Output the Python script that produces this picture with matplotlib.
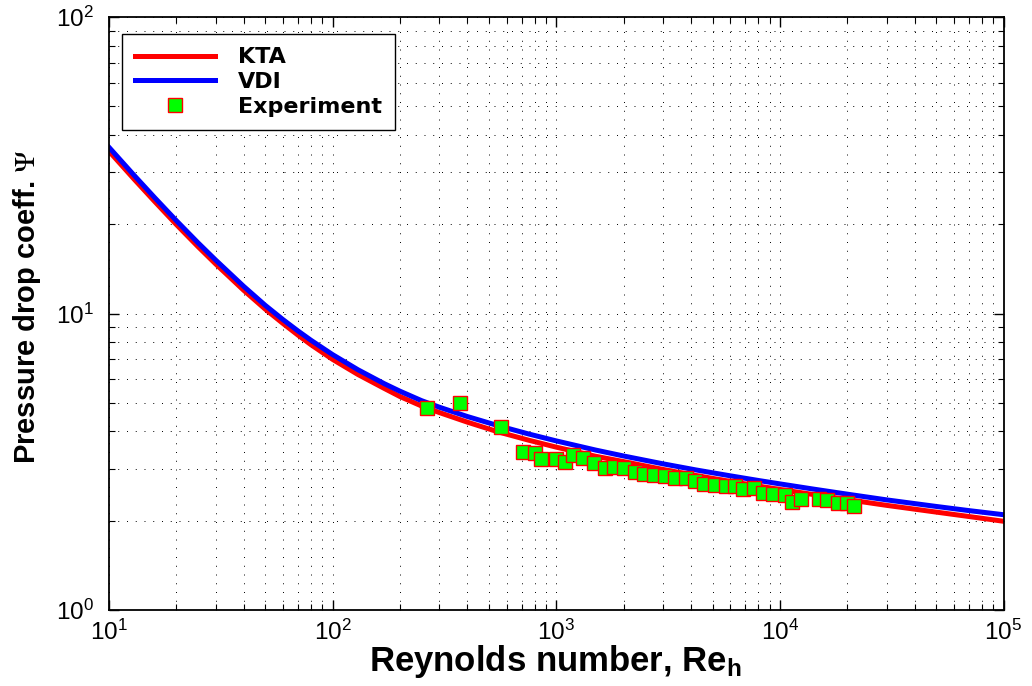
import numpy as np
import matplotlib
matplotlib.use("Agg")
import matplotlib.pyplot as plt
from matplotlib.ticker import LogLocator, NullFormatter

plt.rcParams['font.family'] = ['Liberation Sans', 'DejaVu Sans']
plt.rcParams['mathtext.fontset'] = 'custom'
plt.rcParams['mathtext.rm'] = 'Liberation Sans'
plt.rcParams['mathtext.it'] = 'Liberation Sans:italic'
plt.rcParams['mathtext.bf'] = 'Liberation Sans:bold'

#---------------------------------------------------------------------------
# correlations (same Re grid for both)
re_curve = [10, 13, 16, 20, 25, 30, 40, 50, 60, 70, 80, 100, 130, 170, 200, 250,
            300, 400, 550, 750, 1000, 1500, 2000, 3000, 4200, 6000, 8000, 10000,
            14000, 20000, 30000, 50000, 70000, 100000]
psi_kta = [35.27, 28.29, 23.87, 19.96, 16.81, 14.69, 11.98, 10.34, 9.254, 8.455, 7.849,
           7.002, 6.223, 5.591, 5.248, 4.875, 4.634, 4.302, 3.988, 3.741, 3.542, 3.300,
           3.166, 2.979, 2.843, 2.714, 2.618, 2.550, 2.454, 2.357, 2.254, 2.139, 2.067,
           1.992]
psi_vdi = [36.35, 29.15, 24.59, 20.57, 17.32, 15.14, 12.35, 10.65, 9.535, 8.732, 8.125,
           7.265, 6.457, 5.801, 5.470, 5.082, 4.831, 4.494, 4.184, 3.926, 3.718, 3.463,
           3.307, 3.112, 2.969, 2.835, 2.735, 2.663, 2.560, 2.459, 2.352, 2.235, 2.164,
           2.096]

# measured points
re_exp = [265, 372, 565, 708, 804, 855, 998, 1099, 1193, 1322, 1475, 1658, 1813,
          2016, 2251, 2477, 2737, 3066, 3399, 3806, 4177, 4581, 5129, 5746,
          6302, 6867, 7666, 8384, 9354, 10550, 11300, 12400, 15020, 16310,
          18260, 19910, 21470]
psi_exp = [4.80, 5.00, 4.15, 3.40, 3.38, 3.22, 3.22, 3.16, 3.32, 3.25, 3.12, 3.01, 3.03,
           3.01, 2.93, 2.87, 2.85, 2.83, 2.79, 2.79, 2.73, 2.66, 2.63, 2.61,
           2.61, 2.56, 2.58, 2.49, 2.46, 2.44, 2.32, 2.37, 2.37, 2.35,
           2.30, 2.30, 2.24]
#---------------------------------------------------------------------------

fig = plt.figure(figsize=(10.32, 6.86), dpi=100)
ax = fig.add_axes([109/1032, 1-610/686, (1003.5-109)/1032, (610-17)/686])

ax.plot(re_curve, psi_kta, color="#ff0000", lw=3.6, label="KTA")
ax.plot(re_curve, psi_vdi, color="#0000ff", lw=3.6, label="VDI")
ax.plot(re_exp, psi_exp, ls="none", marker="s", ms=10, mfc="#00ff00", mec="#ff0000",
        mew=1.0, label="Experiment")

ax.set_xscale("log")
ax.set_yscale("log")
ax.set_xlim(10, 1e5)
ax.set_ylim(1, 100)

ax.xaxis.set_major_locator(LogLocator(base=10, numticks=10))
ax.xaxis.set_minor_locator(LogLocator(base=10, subs=np.arange(2, 10), numticks=20))
ax.yaxis.set_minor_locator(LogLocator(base=10, subs=np.arange(2, 10), numticks=20))
ax.xaxis.set_minor_formatter(NullFormatter())
ax.yaxis.set_minor_formatter(NullFormatter())

ax.grid(True, which="both", color="black", lw=0.7, ls=(0, (1, 8)))
ax.tick_params(which="both", direction="in", top=True, right=True, labelsize=17.5)
ax.tick_params(which="major", length=7, width=1.0)
ax.tick_params(which="minor", length=4, width=0.8)
ax.tick_params(axis="x", pad=7)
ax.tick_params(axis="y", pad=11)
for s in ax.spines.values():
    s.set_linewidth(1.3)

fig.text(555/1032, 1-662/686, "Reynolds number, Re$_\\mathbf{h}$", fontsize=25,
         fontweight="bold", ha="center", va="center")
fig.text(27/1032, 1-307/686, "Pressure drop coeff. $\\Psi$", fontsize=21,
         fontweight="bold", rotation=90, ha="center", va="center",
         math_fontfamily="stix")

leg = ax.legend(loc="upper left", bbox_to_anchor=((122-109)/894.5, (610-34)/593),
                borderaxespad=0, prop={"family": "DejaVu Sans", "weight": "bold", "size": 16},
                handlelength=3.6, handletextpad=1.0, labelspacing=0.22,
                borderpad=0.6, fancybox=False, framealpha=1, edgecolor="black")
leg.get_frame().set_linewidth(1.0)

fig.savefig("out.png", dpi=100)
